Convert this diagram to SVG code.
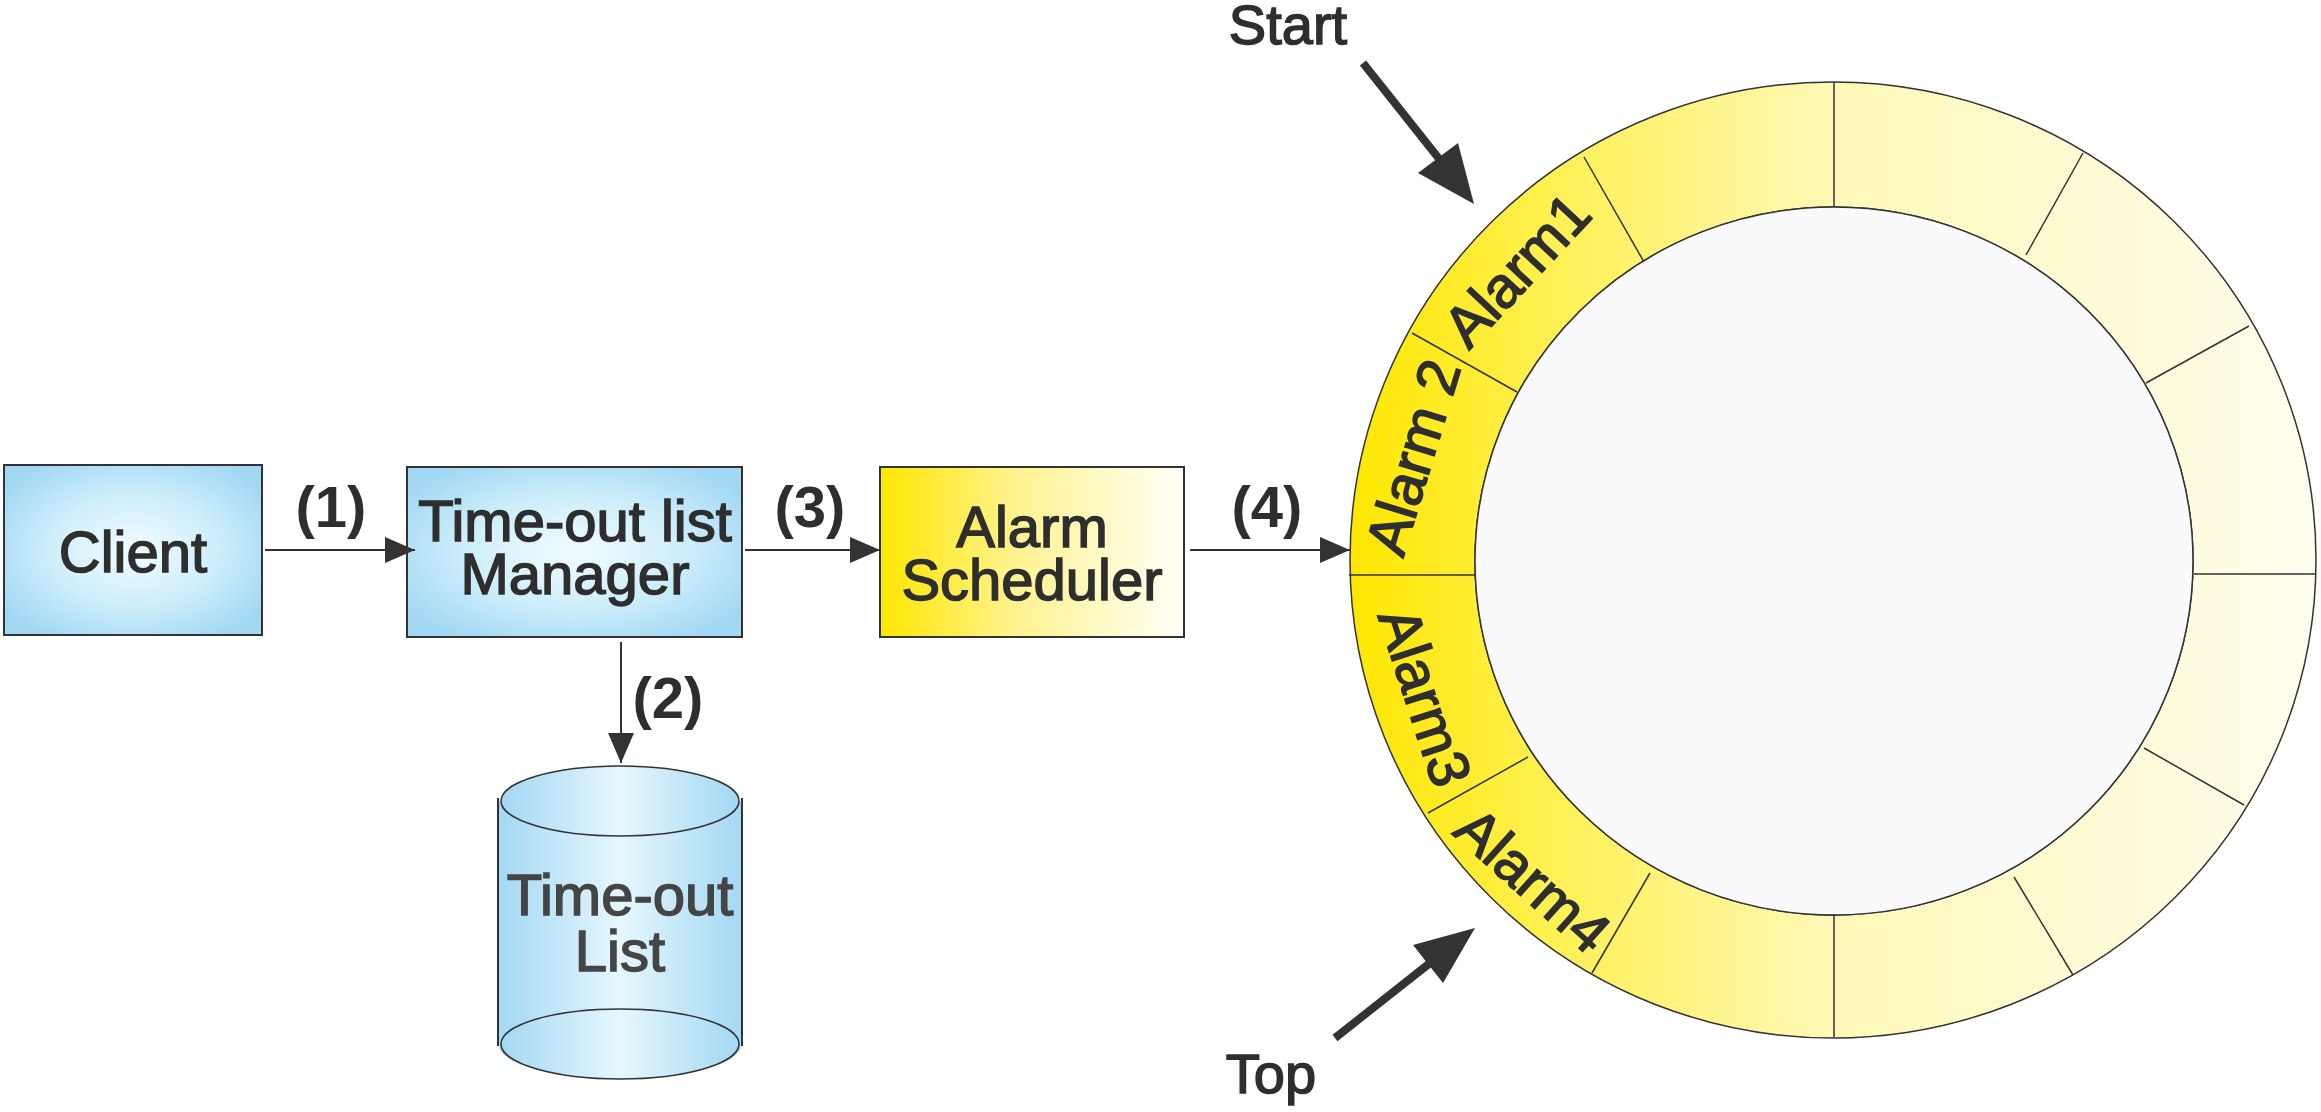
<svg xmlns="http://www.w3.org/2000/svg" width="2321" height="1112" viewBox="0 0 2321 1112">
<defs>
<radialGradient id="blueBox" cx="0.5" cy="0.5" r="0.6">
<stop offset="0" stop-color="#f2fcff"/>
<stop offset="0.55" stop-color="#cdeefb"/>
<stop offset="1" stop-color="#a3d8f4"/>
</radialGradient>
<linearGradient id="blueCyl" x1="0" y1="0" x2="1" y2="0">
<stop offset="0" stop-color="#a3d8f4"/>
<stop offset="0.5" stop-color="#e6f7fd"/>
<stop offset="1" stop-color="#a3d8f4"/>
</linearGradient>
<linearGradient id="yellowBox" x1="0" y1="0" x2="1" y2="0">
<stop offset="0" stop-color="#ffe600"/>
<stop offset="0.45" stop-color="#fff391"/>
<stop offset="1" stop-color="#fffff8"/>
</linearGradient>
<linearGradient id="ringGrad" gradientUnits="userSpaceOnUse" x1="1349" y1="0" x2="2316" y2="0">
<stop offset="0" stop-color="#ffe600"/>
<stop offset="0.2" stop-color="#fff04f"/>
<stop offset="0.5" stop-color="#fff8b8"/>
<stop offset="1" stop-color="#fffdee"/>
</linearGradient>
<marker id="ah" viewBox="0 0 30 26" refX="30" refY="13" markerWidth="30" markerHeight="26" markerUnits="userSpaceOnUse" orient="auto">
<path d="M0,0 L30,13 L0,26 Z" fill="#333"/>
</marker>
</defs>
<style>
.box{stroke:#333;stroke-width:2}
.t{font-family:"Liberation Sans",Arial,sans-serif;font-size:58px;fill:#2e2e2e;stroke:#2e2e2e;stroke-width:1.5;text-anchor:middle}
.b{font-family:"Liberation Sans",Arial,sans-serif;font-size:58px;font-weight:bold;fill:#2e2e2e;text-anchor:middle}
.conn{stroke:#333;stroke-width:2;fill:none}
.big{stroke:#333;stroke-width:8;fill:none}
.div{stroke:#333;stroke-width:1.5}
</style>

<g id="client">
<rect class="box" x="4" y="465" width="258" height="170" fill="url(#blueBox)"/>
<text class="t" x="133" y="572">Client</text>
</g>

<g id="manager">
<rect class="box" x="407" y="467" width="335" height="170" fill="url(#blueBox)"/>
<text class="t" x="575" y="541">Time-out list</text>
<text class="t" x="575" y="594">Manager</text>
</g>

<g id="scheduler">
<rect class="box" x="880" y="467" width="304" height="170" fill="url(#yellowBox)"/>
<text class="t" x="1032" y="547">Alarm</text>
<text class="t" x="1032" y="600">Scheduler</text>
</g>

<g id="timeout-list">
<path d="M498,801 L742,801 L742,1044 A122,35 0 0 1 498,1044 Z" fill="url(#blueCyl)"/>
<ellipse cx="620" cy="1044" rx="119" ry="35" fill="url(#blueCyl)" stroke="#333" stroke-width="1.5"/>
<line x1="498" y1="798" x2="498" y2="1046" stroke="#333" stroke-width="2"/>
<line x1="742" y1="798" x2="742" y2="1046" stroke="#333" stroke-width="2"/>
<ellipse cx="620" cy="801" rx="119" ry="35" fill="url(#blueCyl)" stroke="#333" stroke-width="1.5"/>
<text class="t" x="620" y="915" style="fill:#454545;stroke:#454545">Time-out</text>
<text class="t" x="620" y="971" style="fill:#454545;stroke:#454545">List</text>
</g>

<g id="ring">
<path d="M1350,560 A483,478 0 1 0 2316,560 A483,478 0 1 0 1350,560 Z M1475,561 A359,354 0 1 1 2193,561 A359,354 0 1 1 1475,561 Z" fill="url(#ringGrad)" fill-rule="evenodd" stroke="#333" stroke-width="1.5"/>
<ellipse cx="1834" cy="561" rx="359" ry="354" fill="#fafafc" stroke="#333" stroke-width="1.5"/>
<line class="div" x1="1834" y1="82" x2="1834" y2="207"/>
<line class="div" x1="2083" y1="153" x2="2026" y2="255"/>
<line class="div" x1="2249" y1="326" x2="2146" y2="383"/>
<line class="div" x1="2194" y1="574" x2="2316" y2="574"/>
<line class="div" x1="2244" y1="805" x2="2144" y2="748"/>
<line class="div" x1="2073" y1="975" x2="2014" y2="877"/>
<line class="div" x1="1834" y1="914" x2="1834" y2="1037"/>
<line class="div" x1="1592" y1="973" x2="1650" y2="873"/>
<line class="div" x1="1428" y1="813" x2="1528" y2="757"/>
<line class="div" x1="1349" y1="575" x2="1475" y2="575"/>
<line class="div" x1="1412" y1="333" x2="1517" y2="392"/>
<line class="div" x1="1584" y1="157" x2="1644" y2="262"/>
<text class="t" transform="translate(1517,270) rotate(-47)" dy="20">Alarm1</text>
<text class="t" transform="translate(1413,457) rotate(-73)" dy="20">Alarm 2</text>
<text class="t" transform="translate(1425,697) rotate(72)" dy="20">Alarm3</text>
<text class="t" transform="translate(1533,880) rotate(42)" dy="20">Alarm4</text>
</g>

<g id="start-label">
<text class="t" x="1288" y="44" style="font-size:56px">Start</text>
</g>
<g id="top-label">
<text class="t" x="1271" y="1093" style="font-size:56px">Top</text>
</g>

<g id="connectors">
<line class="conn" x1="265" y1="550" x2="415" y2="550" marker-end="url(#ah)"/>
<text class="b" x="331" y="527">(1)</text>
<line class="conn" x1="621" y1="642" x2="621" y2="763" marker-end="url(#ah)"/>
<text class="b" x="668" y="718">(2)</text>
<line class="conn" x1="745" y1="550" x2="880" y2="550" marker-end="url(#ah)"/>
<text class="b" x="810" y="527">(3)</text>
<line class="conn" x1="1190" y1="550" x2="1350" y2="550" marker-end="url(#ah)"/>
<text class="b" x="1267" y="527">(4)</text>
<line class="big" x1="1363" y1="63" x2="1440" y2="160"/>
<path d="M1418,173 L1458,143 L1474,204 Z" fill="#333"/>
<line class="big" x1="1335" y1="1038" x2="1430" y2="963"/>
<path d="M1413,945 L1443,983 L1475,928 Z" fill="#333"/>
</g>
</svg>
